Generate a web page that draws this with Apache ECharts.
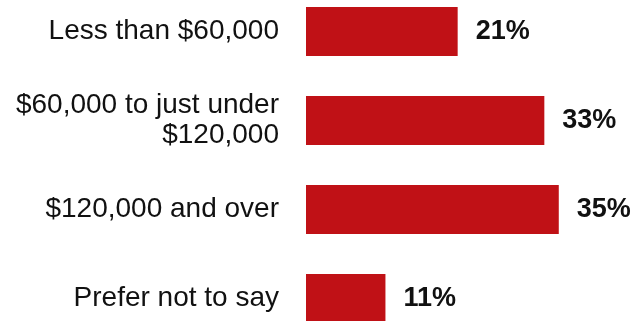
<!DOCTYPE html>
<html><head><meta charset="utf-8">
<script src="https://cdn.jsdelivr.net/npm/echarts@6/dist/echarts.min.js"></script>
<style>html,body{margin:0;padding:0;background:#fff}#c{width:636px;height:321px}</style>
</head><body><div id="c"></div>
<script>
var categories = ["Less than $60,000", "$60,000 to just under\n$120,000", "$120,000 and over", "Prefer not to say"];
var values = [21, 33, 35, 11];
var chart = echarts.init(document.getElementById('c'), null, {renderer: 'canvas'});
chart.setOption({
  animation: false,
  backgroundColor: '#ffffff',
  grid: {left: 306, right: 5, top: -13, height: 356, containLabel: false, outerBoundsMode: 'none'},
  xAxis: {type: 'value', min: 0, max: 45, show: false},
  yAxis: {
    type: 'category', data: categories, inverse: true,
    axisLine: {show: false}, axisTick: {show: false},
    axisLabel: {fontFamily: 'Liberation Sans, Arial, sans-serif', fontSize: 28, color: '#111', margin: 27, lineHeight: 30, align: 'right'}
  },
  series: [{
    type: 'bar', data: values, barWidth: 49,
    itemStyle: {color: '#c01116'},
    label: {show: true, position: 'right', distance: 18, formatter: '{c}%', fontFamily: 'Liberation Sans, Arial, sans-serif', fontSize: 27, fontWeight: 'bold', color: '#111'}
  }]
});
</script></body></html>
